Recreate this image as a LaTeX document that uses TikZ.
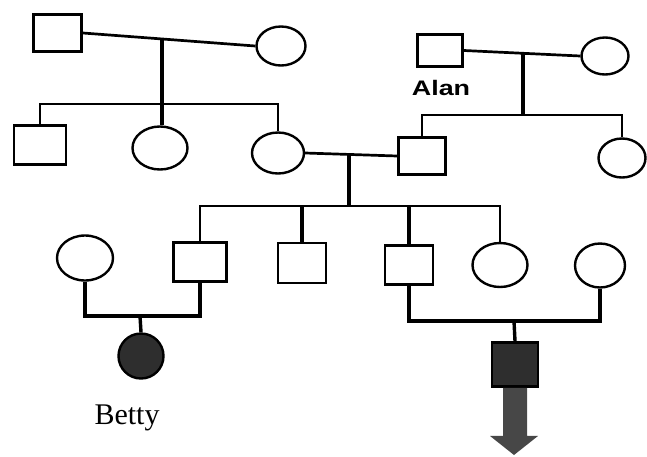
\documentclass[tikz,border=0pt]{standalone}
\usepackage{fontspec}
\usetikzlibrary{shapes.geometric,calc}
\newfontfamily\alanfont{Liberation Sans}
\newfontfamily\bettyfont{Liberation Serif}
\begin{document}
\begin{tikzpicture}[x=1pt,y=-1pt,
  sq/.style={draw, rectangle, line width=2.9pt, inner sep=0pt},
  ci/.style={draw, ellipse, line width=2.4pt, inner sep=0pt},
  ln/.style={line width=2.7pt},
  vl/.style={line width=3.4pt},
  aff/.style={fill=black!82}
]
\useasboundingbox (0,0) rectangle (647,456);
% generation 1, left couple
\node[sq, minimum width=48pt, minimum height=37pt] (A1) at (57.5,33) {};
\node[ci, minimum width=49pt, minimum height=39pt] (A2) at (281,46) {};
\draw[ln] (A1.east) -- (A2.west);
\coordinate (m1) at (162,39);
\coordinate (s1) at (162,104);
\draw[vl] (m1) -- (s1);
% generation 2, left siblings
\node[sq, minimum width=52pt, minimum height=39pt] (B1) at (40,145) {};
\node[ci, minimum width=55pt, minimum height=43pt] (B2) at (160,148) {};
\node[ci, minimum width=52pt, minimum height=41pt] (B3) at (278,153) {};
\draw[ln] (B1.north) |- (s1) -| (B3.north);
\draw[vl] (s1) -- (s1 |- B2.north);
% right couple (Alan)
\node[sq, minimum width=45pt, minimum height=32pt] (C1) at (440,50.5) {};
\node[ci, minimum width=47pt, minimum height=37pt] (C2) at (605,56) {};
\node[font=\alanfont\bfseries\fontsize{21}{25}\selectfont] (alan) at (441,88) {\scalebox{1.28}[1]{Alan}};
\draw[ln] (C1.east) -- (C2.west);
\coordinate (m2) at (523,53);
\coordinate (s2) at (523,115);
\draw[vl] (m2) -- (s2);
\node[sq, minimum width=47pt, minimum height=37pt] (C3) at (422,156) {};
\node[ci, minimum width=47pt, minimum height=39pt] (C4) at (622,158) {};
\draw[ln] (C3.north) |- (s2) -| (C4.north);
% marriage of B3 and C3
\draw[ln] (B3.east) -- (C3.west);
\coordinate (m3) at (349,154.5);
\coordinate (s3) at (349,206);
\draw[vl] (m3) -- (s3);
% generation 3
\node[ci, minimum width=56pt, minimum height=45pt] (D1) at (85,258) {};
\node[sq, minimum width=53pt, minimum height=39pt] (D2) at (200,262) {};
\node[sq, minimum width=48pt, minimum height=40pt] (D3) at (302,263) {};
\node[sq, minimum width=48pt, minimum height=39pt] (D4) at (409,265) {};
\node[ci, minimum width=55pt, minimum height=44pt] (D5) at (500,265) {};
\node[ci, minimum width=50pt, minimum height=44pt] (D6) at (600,265.5) {};
\draw[ln] (D2.north) |- (s3) -| (D5.north);
\draw[vl] (D3.north) -- (D3.north |- s3);
\draw[vl] (D4.north) -- (D4.north |- s3);
% bottom left couple and Betty
\coordinate (m4) at (140,316);
\draw[vl] (D1.south) |- (m4) -| (D2.south);
\node[ci, aff, minimum width=45pt, minimum height=45pt] (E1) at (141,356) {};
\draw[vl] (m4) -- (E1.north);
\node[font=\bettyfont\fontsize{30}{34}\selectfont, anchor=base] (betty) at (127,424) {Betty};
% bottom right couple and affected son with arrow
\coordinate (m5) at (514,321);
\draw[vl] (D4.south) |- (m5) -| (D6.south);
\node[sq, aff, minimum width=46pt, minimum height=44pt] (E2) at (515,364.5) {};
\draw[vl] (m5) -- (E2.north);
\coordinate (tip) at (514,455);
\fill[black!72] ($(E2.south)+(-12,0)$) -- ($(E2.south)+(-12,48)$) -- ($(E2.south)+(-25,48)$) -- (tip) -- ($(E2.south)+(23,48)$) -- ($(E2.south)+(12,48)$) -- ($(E2.south)+(12,0)$) -- cycle;
\end{tikzpicture}
\end{document}
